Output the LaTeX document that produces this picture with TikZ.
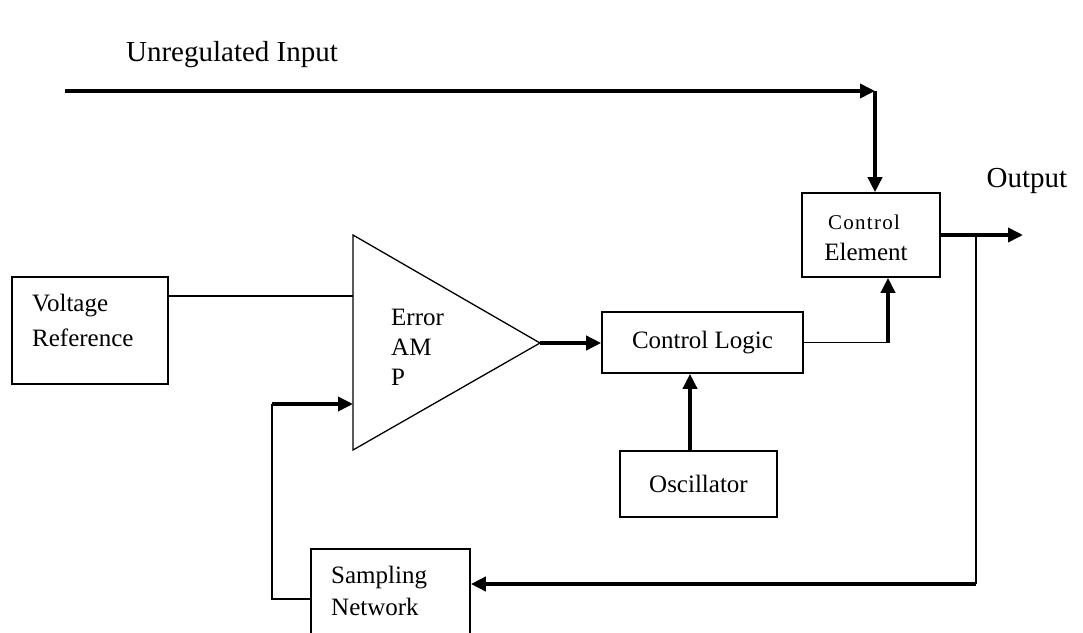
\documentclass[tikz,border=0pt]{standalone}
\usepackage{fontspec}
\setmainfont{Liberation Serif}
\newfontfamily\spacedfont[LetterSpace=6]{Liberation Serif}
\usetikzlibrary{arrows.meta}

\begin{document}
\begin{tikzpicture}[x=1pt, y=-1pt, >={Triangle[length=15pt, width=14pt]},
  box/.style={draw, line width=1.6pt, rectangle, inner sep=0pt},
  wire/.style={line width=1.7pt},
  bus/.style={line width=3.6pt},
  lbl/.style={font=\fontsize{25}{30}\selectfont, inner sep=0pt},
  biglbl/.style={font=\fontsize{29}{34}\selectfont, inner sep=0pt}]

  % Page frame (1 unit = 1 pixel of the reference)
  \clip (0,0) rectangle (1083,632);

  % Blocks
  \node[box, minimum width=156, minimum height=107] (vref) at (90,330.5) {};
  \node[box, minimum width=201, minimum height=61, lbl] (ctrllogic) at (702.5,342.5) {Control Logic};
  \node[box, minimum width=138, minimum height=84] (ctrlel) at (871,235) {};
  \node[box, minimum width=157, minimum height=66, lbl] (osc) at (698.5,484) {Oscillator};
  \node[box, minimum width=159, minimum height=116] (sampnet) at (390.5,607) {};

  % Error amplifier triangle
  \coordinate (amptop) at (353,235);
  \coordinate (ampbot) at (353,450);
  \coordinate (ampout) at (540,343);
  \coordinate (ampin1) at (353,296);
  \coordinate (ampin2) at (353,404);
  \draw[line width=1.3pt, line join=miter] (amptop) -- (ampout) -- (ampbot) -- cycle;

  % Texts inside the blocks
  \node[lbl, anchor=west] (vreftxt1) at (32,306) {Voltage};
  \node[lbl, anchor=west] (vreftxt2) at (32,338) {Reference};
  \node[lbl, anchor=west] (amptxt1) at (391,317) {Error};
  \node[lbl, anchor=west] (amptxt2) at (391,347) {AM};
  \node[lbl, anchor=west] (amptxt3) at (391,377) {P};
  \node[font=\spacedfont\fontsize{21}{25}\selectfont, inner sep=0pt] (ctrleltxt1) at (864,222) {Control};
  \node[lbl] (ctrleltxt2) at (866,252) {Element};
  \node[lbl, anchor=west] (samptxt1) at (331,578) {Sampling};
  \node[lbl, anchor=west] (samptxt2) at (331,607) {Network};

  % Outside labels
  \node[biglbl] (inlbl) at (232,55) {Unregulated Input};
  \node[biglbl] (outlbl) at (1027,181) {Output};

  % Unregulated input
  \coordinate (inleft) at (65,91);
  \coordinate (incorner) at (875,91);
  \draw[bus, ->] (inleft) -- (incorner);
  \draw[bus, ->] (incorner) -- (ctrlel.north -| incorner);

  % Reference into the amplifier
  \draw[wire] (vref.east |- ampin1) -- (ampin1);

  % Amplifier to control logic to control element
  \draw[bus, ->] (ampout) -- (ctrllogic.west |- ampout);
  \coordinate (clturn) at (888,342.5);
  \draw[wire] (ctrllogic.east) -- (clturn);
  \draw[bus, ->] (clturn) -- (ctrlel.south -| clturn);

  % Oscillator
  \coordinate (oscx) at (690,0);
  \draw[bus, ->] (osc.north -| oscx) -- (ctrllogic.south -| oscx);

  % Output and feedback
  \coordinate (outtip) at (1023,235);
  \draw[bus, ->] (ctrlel.east) -- (outtip);
  \coordinate (tap) at (976,235);
  \coordinate (tapbot) at (976,584);
  \draw[wire] (tap) -- (tapbot);
  \draw[bus, ->] (tapbot) -- (sampnet.east |- tapbot);
  \coordinate (fbbot) at (272,599);
  \coordinate (fbtop) at (272,404);
  \draw[wire] (sampnet.west |- fbbot) -- (fbbot) -- (fbtop);
  \draw[bus, ->] (fbtop) -- (ampin2);

\end{tikzpicture}
\end{document}
